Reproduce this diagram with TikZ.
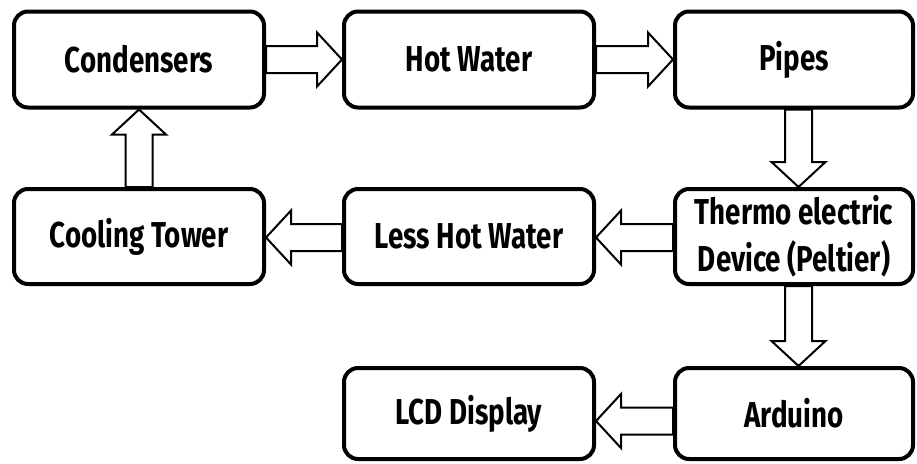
\documentclass[tikz,border=0pt]{standalone}
\usepackage{fontspec}
\setmainfont{Fira Sans}[FakeStretch=0.77]
\usetikzlibrary{calc}
\tikzset{
  boxw/.style={draw=black, line width=4pt, rounded corners=14pt, fill=white,
    font=\fontsize{36}{47}\selectfont\bfseries, align=center, inner sep=0pt},
  blk/.style={draw=black, line width=2pt, fill=white, line join=miter}
}
\newcommand\arrR[3]{\draw[blk] let \p1=($(#1.east)+(0,#3)$), \p2=(#2.west) in
  (\x1,\y1+13.5pt) -- (\x2-25pt,\y1+13.5pt) -- (\x2-25pt,\y1+27pt) -- (\x2,\y1)
  -- (\x2-25pt,\y1-27pt) -- (\x2-25pt,\y1-13.5pt) -- (\x1,\y1-13.5pt) -- cycle;}
\newcommand\arrL[3]{\draw[blk] let \p1=($(#1.west)+(0,#3)$), \p2=(#2.east) in
  (\x1,\y1+13.5pt) -- (\x2+25pt,\y1+13.5pt) -- (\x2+25pt,\y1+27pt) -- (\x2,\y1)
  -- (\x2+25pt,\y1-27pt) -- (\x2+25pt,\y1-13.5pt) -- (\x1,\y1-13.5pt) -- cycle;}
\newcommand\arrD[3]{\draw[blk] let \p1=($(#1.south)+(#3,0)$), \p2=(#2.north) in
  (\x1+13.5pt,\y1) -- (\x1+13.5pt,\y2+25pt) -- (\x1+27pt,\y2+25pt) -- (\x1,\y2)
  -- (\x1-27pt,\y2+25pt) -- (\x1-13.5pt,\y2+25pt) -- (\x1-13.5pt,\y1) -- cycle;}
\newcommand\arrU[3]{\draw[blk] let \p1=($(#1.north)+(#3,0)$), \p2=(#2.south) in
  (\x1+13.5pt,\y1) -- (\x1+13.5pt,\y2-25pt) -- (\x1+27pt,\y2-25pt) -- (\x1,\y2)
  -- (\x1-27pt,\y2-25pt) -- (\x1-13.5pt,\y2-25pt) -- (\x1-13.5pt,\y1) -- cycle;}
\begin{document}
\begin{tikzpicture}
\useasboundingbox (0,0) rectangle (917pt,-463pt);
% row 1
\node[boxw, minimum width=250pt, minimum height=96pt] (cond) at (139pt,-59.5pt) {Condensers};
\node[boxw, minimum width=250pt, minimum height=96pt] (hot) at (469pt,-59.5pt) {Hot Water};
\node[boxw, minimum width=238pt, minimum height=96pt] (pipes) at (794pt,-59.5pt) {Pipes};
% row 2
\node[boxw, minimum width=250pt, minimum height=95pt] (cool) at (139pt,-236.5pt) {Cooling Tower};
\node[boxw, minimum width=250pt, minimum height=95pt] (less) at (469pt,-236.5pt) {Less Hot Water};
\node[boxw, minimum width=238pt, minimum height=95pt] (thermo) at (794pt,-236.5pt) {Thermo electric\\Device (Peltier)};
% row 3
\node[boxw, minimum width=250pt, minimum height=91pt] (lcd) at (469pt,-413.5pt) {LCD Display};
\node[boxw, minimum width=238pt, minimum height=91pt] (ard) at (794pt,-413.5pt) {Arduino};
% arrows
\arrR{cond}{hot}{0pt}
\arrR{hot}{pipes}{0pt}
\arrD{pipes}{thermo}{4.5pt}
\arrL{thermo}{less}{-1pt}
\arrL{less}{cool}{-1pt}
\arrU{cool}{cond}{0pt}
\arrD{thermo}{ard}{4.5pt}
\arrL{ard}{lcd}{-7.5pt}
\end{tikzpicture}
\end{document}
